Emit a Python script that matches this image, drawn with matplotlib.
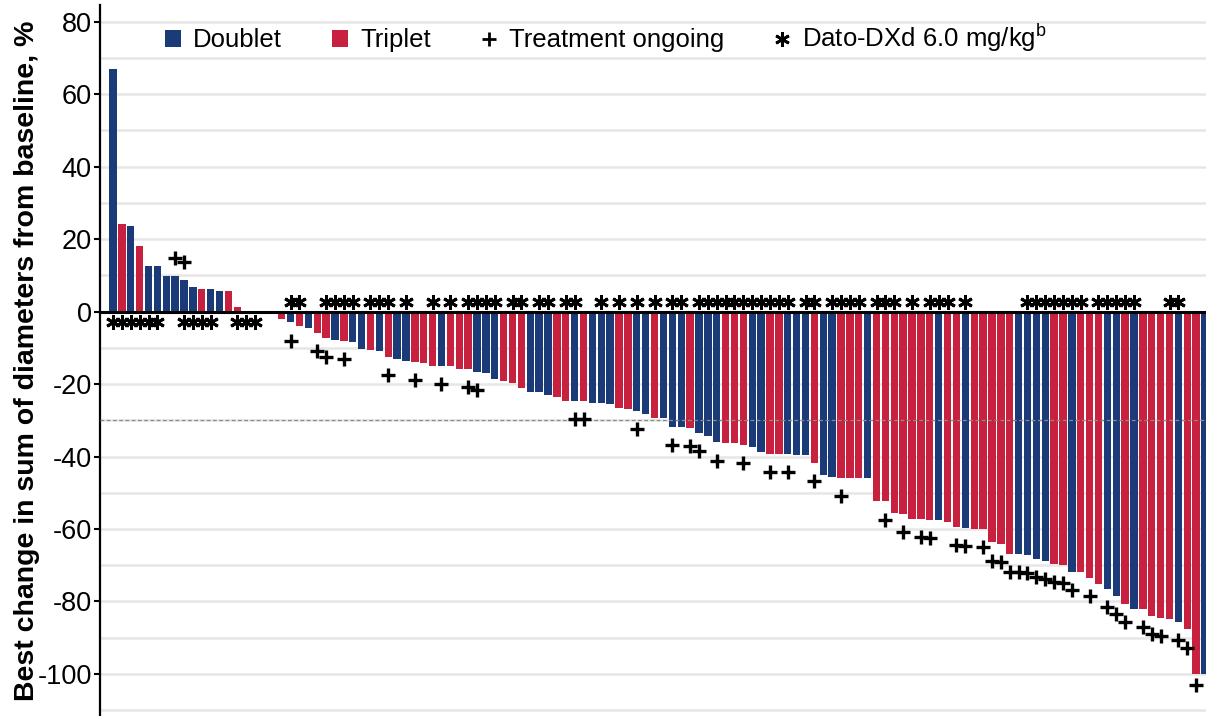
import numpy as np
import matplotlib
matplotlib.use("Agg")
import matplotlib.pyplot as plt
from matplotlib.patches import Patch
from matplotlib.lines import Line2D

plt.rcParams['font.family'] = ['Liberation Sans', 'DejaVu Sans']
plt.rcParams['axes.unicode_minus'] = False

# ---- data ----
groups = ("DTDTDDDDDDTDDTT" "DDDD"
          "TDTDTTDTDDTDTDDTTTDTTTD"
          "DDTTTDDDTTDTDDDTTDDT"
          "DDDTDDDTTTDDTTDDDTDDT"
          "TTDTTTTTTTDTTDTTTTTD"
          "DDDTTDTTTDDTDTTTTDTTD")
values = [67.0, 24.3, 23.6, 18.1, 12.6, 12.6, 9.8, 9.8, 8.8, 6.9,
          6.3, 6.3, 5.7, 5.7, 1.3, 0.0, 0.0, 0.0, 0.0, -2.1,
          -3.0, -3.9, -4.6, -6.0, -7.4, -7.9, -8.1, -8.5, -10.3, -10.7,
          -11.0, -12.5, -13.1, -13.5, -13.8, -14.3, -14.9, -14.9, -14.9, -15.9,
          -15.9, -16.7, -17.0, -18.7, -19.2, -19.8, -21.2, -22.3, -22.3, -23.0,
          -23.7, -24.7, -24.7, -24.7, -25.2, -25.2, -25.5, -26.5, -26.9, -27.3,
          -28.3, -29.3, -29.3, -31.8, -31.8, -32.1, -33.6, -34.3, -36.1, -36.4,
          -36.4, -36.8, -37.4, -38.8, -39.2, -39.2, -39.4, -39.6, -39.6, -41.8,
          -45.2, -45.6, -46.0, -46.0, -46.0, -46.0, -52.4, -52.4, -55.5, -55.9,
          -57.1, -57.3, -57.6, -57.6, -58.0, -59.4, -59.8, -60.1, -60.1, -63.7,
          -64.1, -66.8, -66.8, -67.2, -68.2, -68.8, -69.7, -70.0, -71.8, -71.8,
          -73.6, -75.3, -76.6, -78.5, -80.6, -82.1, -82.1, -84.0, -84.6, -84.9,
          -85.6, -87.7, -100.0, -100.0]
# patients (1-based) with treatment ongoing
ongoing = [8, 9, 21, 24, 25, 27, 32, 35, 38, 41, 42, 53, 54, 60, 64, 66, 67,
           69, 72, 75, 77, 80, 83, 88, 90, 92, 93, 96, 97, 99, 100, 101, 102,
           103, 104, 105, 106, 107, 108, 109, 111, 113, 114, 115, 117, 118,
           119, 121, 122, 123]
# patients (1-based) on Dato-DXd 6.0 mg/kg
dato = [1, 2, 3, 4, 5, 6, 9, 10, 11, 12, 15, 16, 17,
        21, 22, 25, 26, 27, 28, 30, 31, 32, 34, 37, 39, 41, 42, 43, 44,
        46, 47, 49, 50, 52, 53, 56, 58, 60, 62, 64, 65,
        67, 68, 69, 70, 71, 72, 73, 74, 75, 76, 77, 79, 80,
        82, 83, 84, 85, 87, 88, 89, 91, 93, 94, 95, 97,
        104, 105, 106, 107, 108, 109, 110, 112, 113, 114, 115, 116, 120, 121]
legend_labels = ["Doublet", "Triplet", "Treatment ongoing",
                 "Dato-DXd 6.0 mg/kg$^{\\mathregular{b}}$"]
ylabel = "Best change in sum of diameters from baseline, %"

BLUE = "#1b3a78"
RED = "#c8203f"
color_map = {"D": BLUE, "T": RED}

fig = plt.figure(figsize=(12.06, 7.16), dpi=100)
ax = fig.add_axes([100 / 1206, 0, 1106 / 1206, 711 / 716])

x = np.arange(len(values))
vals = np.array(values)
cols = [color_map[g] for g in groups]
ax.bar(x, vals, width=0.83, color=cols, zorder=2, linewidth=0)

# treatment ongoing markers
oi = np.array(ongoing) - 1
ov = vals[oi]
oy = np.where(ov >= 0, ov + 5, np.maximum(ov - 5, -103))
ax.plot(oi, oy, linestyle="none", marker="+", markersize=10, mew=2.4,
        color="black", zorder=5)

# Dato-DXd markers
di = np.array(dato) - 1
dv = vals[di]
dy = np.where(dv >= 0, -2.8, 2.6)
ax.plot(di, dy, linestyle="none", marker=(6, 2, 0), markersize=10.5, mew=2.1,
        color="black", zorder=5)

ax.axhline(0, color="black", lw=2.2, zorder=4)
ax.axhline(-30, color="#8a8a8a", lw=0.9, ls=(0, (3, 2)), zorder=4)

ax.set_xlim(-1.464, 123.11)
ax.set_ylim(-111.6, 84.6)
ax.set_xticks([])
ax.set_yticks(np.arange(-100, 81, 20))
ax.set_yticks(np.arange(-110, 85, 10), minor=True)
ax.yaxis.grid(True, which="both", color="#e6e6e6", lw=1.8, zorder=0)
ax.set_axisbelow(True)
ax.tick_params(axis="y", which="major", length=4.5, width=1.5, labelsize=19.5, pad=1.5)
ax.tick_params(axis="y", which="minor", length=0)
for s in ["top", "right", "bottom"]:
    ax.spines[s].set_visible(False)
ax.spines["left"].set_linewidth(1.6)

ax.set_ylabel(ylabel, fontsize=20.5, fontweight="bold")
ax.yaxis.set_label_coords(-0.0545, 0.5)

handles = [Patch(facecolor=BLUE, edgecolor="none"),
           Patch(facecolor=RED, edgecolor="none"),
           Line2D([], [], ls="none", marker="+", markersize=10, mew=2.0, color="black"),
           Line2D([], [], ls="none", marker=(6, 2, 0), markersize=10.5, mew=2.0, color="black")]
ax.legend(handles, legend_labels, ncol=4, loc="center left",
          bbox_to_anchor=(165 / 1206, 1 - 38 / 716), bbox_transform=fig.transFigure,
          frameon=False, fontsize=18.5, handlelength=0.62, handleheight=0.62,
          handletextpad=0.47, columnspacing=1.95, borderpad=0, borderaxespad=0)

fig.savefig("out.png", dpi=100)
